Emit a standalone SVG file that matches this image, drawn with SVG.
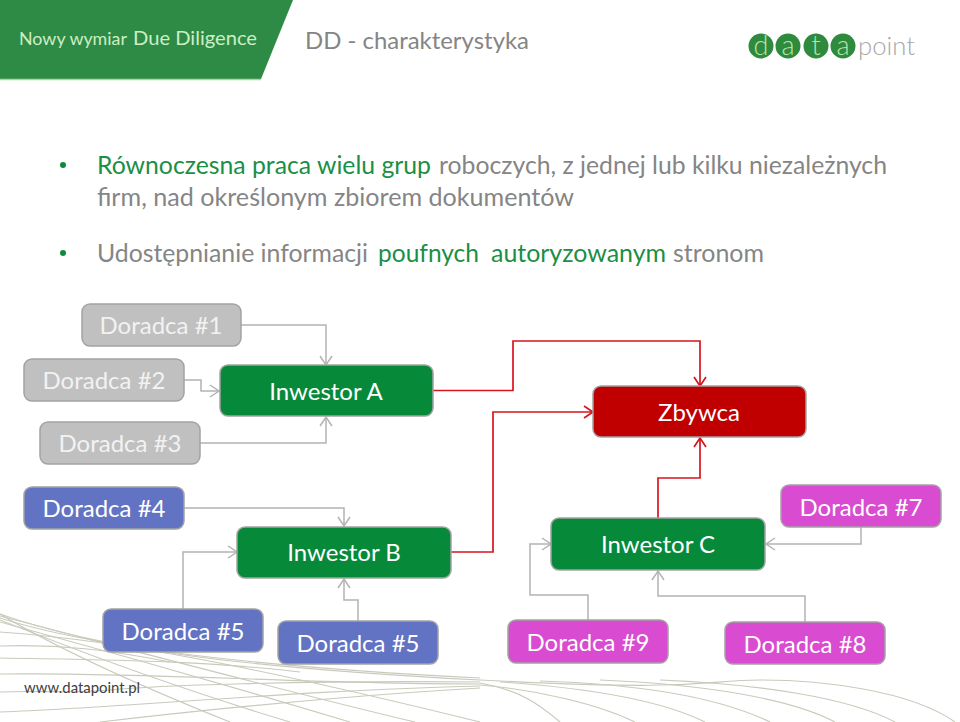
<svg xmlns="http://www.w3.org/2000/svg" width="960" height="722" viewBox="0 0 960 722">
<style>
text{font-family:Lato,"Liberation Sans",sans-serif}
.n{stroke:#a3a3a3;stroke-width:1.5}
.g{fill:#c0c0c0}.v{fill:#068a3a}.r{fill:#c00000}.b{fill:#6373c4}.m{fill:#d94bd0}
.l{font-size:24px;fill:#fff;text-anchor:middle}
.lg{fill:#f2f2f2}
.c{fill:none;stroke:#b3b3b3;stroke-width:1.5}
.cr{fill:none;stroke:#d8141e;stroke-width:1.7}
.w{fill:none;stroke:#c9cabb;stroke-width:1.1}
.t{font-size:24.800px;fill:#858585}
.tg{fill:#1a8f45}
</style>
<defs>
<marker id="ag" markerUnits="userSpaceOnUse" markerWidth="18" markerHeight="18" refX="13" refY="8" orient="auto"><path d="M4,2 L13,8 L4,14" fill="none" stroke="#b3b3b3" stroke-width="1.5"/></marker>
<marker id="ar" markerUnits="userSpaceOnUse" markerWidth="18" markerHeight="18" refX="13" refY="8" orient="auto"><path d="M4,2 L13,8 L4,14" fill="none" stroke="#d8141e" stroke-width="1.7"/></marker>
</defs>
<rect width="960" height="722" fill="#fff"/>
<g id="footer-lines">
<path class="w" d="M0,614 C100,650 250,668 480,680 S700,680 760,680 S910,690 955,722"/>
<path class="w" d="M0,618 C100,650 280,668 480,678"/>
<path class="w" d="M0,614 C60,650 150,690 230,722"/>
<path class="w" d="M0,620 C100,660 200,695 290,722"/>
<path class="w" d="M0,622 C140,660 260,695 350,722"/>
<path class="w" d="M0,616 C150,655 300,695 415,722"/>
<path class="w" d="M0,632 C120,640 260,668 480,722"/>
<path class="w" d="M0,646 C60,644 110,650 170,662"/>
<path class="w" d="M0,658 C100,660 200,660 300,672"/>
<path class="w" d="M0,674 C150,672 300,684 480,684"/>
<path class="w" d="M0,692 C40,690 70,694 110,690 S300,680 480,682"/>
<path class="w" d="M0,712 C120,708 300,690 480,686"/>
<path class="w" d="M100,722 C220,708 360,695 480,688"/>
<path class="w" d="M480,683 C520,690 540,705 560,722"/>
<path class="w" d="M480,685 C540,690 600,705 635,722"/>
<path class="w" d="M500,682 C590,688 660,700 705,722"/>
<path class="w" d="M540,681 C640,684 720,698 770,722"/>
<path class="w" d="M600,680 C700,684 790,698 835,722"/>
<path class="w" d="M660,680 C760,684 850,698 895,722"/>
</g>
<g id="header">
<polygon points="0,0 293,0 261,79 0,79" fill="#2e8b45"/>
<line x1="0" y1="79.500" x2="261" y2="79.500" stroke="#a9d6a6" stroke-width="1.500"/>
<text x="19" y="45" font-size="17.500" fill="#cdeec4" textLength="108" lengthAdjust="spacingAndGlyphs">Nowy wymiar</text>
<text x="133" y="45" font-size="20" fill="#cdeec4" textLength="124" lengthAdjust="spacingAndGlyphs">Due Diligence</text>
<text x="305" y="49" font-size="24" fill="#858585" textLength="224" lengthAdjust="spacingAndGlyphs">DD - charakterystyka</text>
</g>
<g id="logo">
<circle cx="761" cy="46" r="12.5" fill="#2e8b3d"/><circle cx="788" cy="46" r="12.5" fill="#2e8b3d"/><circle cx="816" cy="46" r="12.5" fill="#2e8b3d"/><circle cx="843" cy="46" r="12.5" fill="#2e8b3d"/>
<text font-size="27" fill="#b9e2ae" text-anchor="middle" font-weight="300"><tspan x="761" y="55">d</tspan><tspan x="788" y="55">a</tspan><tspan x="816" y="55">t</tspan><tspan x="843" y="55">a</tspan></text>
<text x="858" y="55" font-size="26" fill="#a8a8a8" font-weight="300" textLength="57" lengthAdjust="spacingAndGlyphs">point</text>
</g>
<g id="bullets">
<circle cx="63" cy="165" r="3" fill="#0f8a3c"/>
<text class="t tg" x="97" y="174" textLength="334" lengthAdjust="spacingAndGlyphs">Równoczesna praca wielu grup</text>
<text class="t" x="439" y="174" textLength="448" lengthAdjust="spacingAndGlyphs">roboczych, z jednej lub kilku niezależnych</text>
<text class="t" x="97" y="206" textLength="477" lengthAdjust="spacingAndGlyphs">firm, nad określonym zbiorem dokumentów</text>
<circle cx="63" cy="253" r="3" fill="#0f8a3c"/>
<text class="t" x="97" y="262" textLength="271" lengthAdjust="spacingAndGlyphs">Udostępnianie informacji</text>
<text class="t tg" x="378" y="262" textLength="101" lengthAdjust="spacingAndGlyphs">poufnych</text>
<text class="t tg" x="491" y="262" textLength="175" lengthAdjust="spacingAndGlyphs">autoryzowanym</text>
<text class="t" x="673" y="262" textLength="91" lengthAdjust="spacingAndGlyphs">stronom</text>
</g>
<g id="connectors">
<path class="c" marker-end="url(#ag)" d="M241,325H326V365"/>
<path class="c" marker-end="url(#ag)" d="M184,380H201V391H219"/>
<path class="c" marker-end="url(#ag)" d="M200,443H326V417"/>
<path class="c" marker-end="url(#ag)" d="M184,508H344V526"/>
<path class="c" marker-end="url(#ag)" d="M183,609V552H237"/>
<path class="c" marker-end="url(#ag)" d="M358,621V600H344V579"/>
<path class="c" marker-end="url(#ag)" d="M588,620V595H530V544H551"/>
<path class="c" marker-end="url(#ag)" d="M805,622V596H658V571"/>
<path class="c" marker-end="url(#ag)" d="M861,527V544H766"/>
<path class="cr" marker-end="url(#ar)" d="M433,390.500H513V341H700V386"/>
<path class="cr" marker-end="url(#ar)" d="M451,552H493V412H593"/>
<path class="cr" marker-end="url(#ar)" d="M658,518V478H700V438"/>
</g>
<g id="doradca1"><rect class="n g" x="82" y="304" width="159" height="42" rx="8"/><text class="l lg" x="161" y="334">Doradca #1</text></g>
<g id="doradca2"><rect class="n g" x="24" y="359" width="160" height="42" rx="8"/><text class="l lg" x="104" y="389">Doradca #2</text></g>
<g id="doradca3"><rect class="n g" x="40" y="422" width="160" height="42" rx="8"/><text class="l lg" x="120" y="452">Doradca #3</text></g>
<g id="inwestorA"><rect class="n v" x="220" y="365" width="213" height="51" rx="8"/><text class="l" x="326" y="400">Inwestor A</text></g>
<g id="zbywca"><rect class="n r" x="593" y="386" width="213" height="51" rx="8"/><text class="l" x="699" y="421">Zbywca</text></g>
<g id="inwestorC"><rect class="n v" x="551" y="518" width="214" height="52" rx="8"/><text class="l" x="658" y="553">Inwestor C</text></g>
<g id="doradca7"><rect class="n m" x="781" y="485" width="160" height="42" rx="8"/><text class="l" x="861" y="516">Doradca #7</text></g>
<g id="doradca4"><rect class="n b" x="24" y="487" width="160" height="42" rx="8"/><text class="l" x="104" y="517">Doradca #4</text></g>
<g id="inwestorB"><rect class="n v" x="237" y="527" width="214" height="51" rx="8"/><text class="l" x="344" y="561">Inwestor B</text></g>
<g id="doradca5a"><rect class="n b" x="103" y="609" width="160" height="43" rx="8"/><text class="l" x="183" y="640">Doradca #5</text></g>
<g id="doradca5b"><rect class="n b" x="278" y="621" width="160" height="43" rx="8"/><text class="l" x="358" y="652">Doradca #5</text></g>
<g id="doradca9"><rect class="n m" x="508" y="620" width="160" height="43" rx="8"/><text class="l" x="588" y="651">Doradca #9</text></g>
<g id="doradca8"><rect class="n m" x="725" y="622" width="160" height="42" rx="8"/><text class="l" x="805" y="653">Doradca #8</text></g>
<text x="24" y="693" font-size="15" fill="#404040" textLength="116" lengthAdjust="spacingAndGlyphs">www.datapoint.pl</text>
</svg>
